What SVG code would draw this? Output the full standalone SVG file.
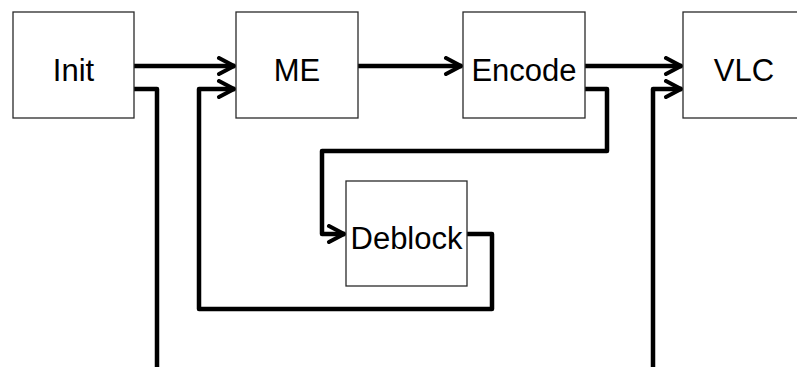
<svg xmlns="http://www.w3.org/2000/svg" width="797" height="367" viewBox="0 0 797 367">
<style>
.box{fill:#fff;stroke:#2a2a2a;stroke-width:1.3}
.lbl{font-family:"Liberation Sans",Arial,sans-serif;font-size:31px;fill:#000;text-anchor:middle}
.wire{fill:none;stroke:#000;stroke-width:4.5;stroke-linejoin:round}
</style>
<defs>
<marker id="arr" markerUnits="userSpaceOnUse" viewBox="-20 -10 22 20" refX="0" refY="0" markerWidth="22" markerHeight="20" orient="auto">
<path d="M-16,-8 L-1,0 L-16,8" fill="none" stroke="#000" stroke-width="4" stroke-linejoin="miter" stroke-linecap="round"/>
</marker>
</defs>
<rect width="797" height="367" fill="#fff"/>
<g id="connectors">
<path class="wire" d="M134,66 H235" marker-end="url(#arr)"/>
<path class="wire" d="M134,89 H157 V367"/>
<path class="wire" d="M358,66 H462" marker-end="url(#arr)"/>
<path class="wire" d="M585,66 H682" marker-end="url(#arr)"/>
<path class="wire" d="M585,89 H607 V151 H322 V234 H345" marker-end="url(#arr)"/>
<path class="wire" d="M467,234 H492 V309 H199 V89 H235" marker-end="url(#arr)"/>
<path class="wire" d="M653,367 V89 H682" marker-end="url(#arr)"/>
</g>
<g id="init">
<rect class="box" x="13" y="12" width="121" height="106"/>
<text class="lbl" x="73.5" y="81">Init</text>
</g>
<g id="me">
<rect class="box" x="236" y="12" width="122" height="106"/>
<text class="lbl" x="297" y="81">ME</text>
</g>
<g id="encode">
<rect class="box" x="463" y="12" width="122" height="106"/>
<text class="lbl" x="524" y="81">Encode</text>
</g>
<g id="vlc">
<rect class="box" x="683" y="12" width="122" height="106"/>
<text class="lbl" x="744" y="81">VLC</text>
</g>
<g id="deblock">
<rect class="box" x="346" y="181" width="121" height="105"/>
<text class="lbl" x="406.5" y="249">Deblock</text>
</g>
</svg>
